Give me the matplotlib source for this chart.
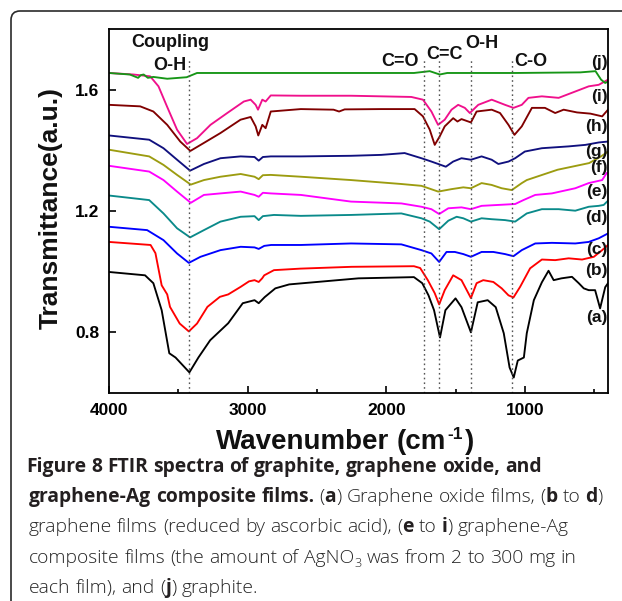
import re
import matplotlib
matplotlib.use("Agg")
import matplotlib.pyplot as plt
from matplotlib.patches import FancyBboxPatch
from matplotlib.transforms import IdentityTransform

# ---------------- data: FTIR spectra (wavenumber cm^-1, transmittance a.u.) ----------------
wn_a = [4000, 3740, 3680, 3620, 3565, 3520, 3420, 3355, 3270, 3140, 3035, 2950, 2920, 2877,
        2800, 2700, 2500, 2200, 1800, 1740, 1695, 1655, 1612, 1573, 1500, 1457, 1389, 1340,
        1268, 1210, 1152, 1110, 1080, 1051, 1007, 986, 935, 877, 829, 792, 736, 660, 611,
        575, 539, 493, 457, 420, 400]
tr_a = [0.999, 0.988, 0.962, 0.873, 0.731, 0.717, 0.668, 0.717, 0.774, 0.830, 0.896, 0.906,
        0.896, 0.916, 0.945, 0.958, 0.966, 0.978, 0.982, 0.962, 0.922, 0.873, 0.783, 0.873,
        0.912, 0.883, 0.800, 0.899, 0.906, 0.883, 0.797, 0.684, 0.651, 0.707, 0.717, 0.797,
        0.906, 0.965, 1.003, 0.972, 0.978, 0.983, 0.962, 0.945, 0.939, 0.939, 0.879, 0.949,
        0.962]

wn_b = [4000, 3700, 3665, 3620, 3580, 3560, 3490, 3424, 3365, 3290, 3200, 3140, 3050, 2990,
        2950, 2920, 2895, 2880, 2810, 2620, 2250, 1800, 1755, 1700, 1650, 1618, 1578, 1517,
        1457, 1389, 1348, 1300, 1227, 1167, 1118, 1082, 1034, 962, 877, 781, 684, 587, 502,
        442, 400]
tr_b = [1.098, 1.088, 1.061, 0.955, 0.925, 0.884, 0.829, 0.803, 0.829, 0.884, 0.917, 0.925,
        0.950, 0.968, 0.972, 0.966, 0.978, 0.988, 1.005, 1.010, 1.016, 1.018, 1.012, 0.972,
        0.929, 0.892, 0.939, 0.988, 0.972, 0.913, 0.962, 0.972, 0.966, 0.945, 0.922, 0.915,
        0.950, 1.011, 1.040, 1.038, 1.044, 1.040, 1.049, 1.071, 1.088]

wn_c = [4000, 3725, 3607, 3509, 3424, 3340, 3196, 3050, 2950, 2920, 2880, 2830, 2616, 2254,
        1891, 1746, 1674, 1618, 1565, 1505, 1444, 1389, 1312, 1227, 1143, 1082, 1022, 925,
        805, 636, 539, 467, 400]
tr_c = [1.148, 1.137, 1.104, 1.060, 1.029, 1.049, 1.071, 1.082, 1.080, 1.075, 1.085, 1.088,
        1.088, 1.093, 1.090, 1.071, 1.060, 1.032, 1.065, 1.065, 1.058, 1.049, 1.065, 1.065,
        1.058, 1.051, 1.071, 1.093, 1.095, 1.093, 1.098, 1.110, 1.126]

wn_d = [4000, 3710, 3607, 3509, 3415, 3315, 3196, 3050, 2950, 2920, 2890, 2810, 2616, 2254,
        1891, 1746, 1686, 1618, 1552, 1492, 1444, 1389, 1312, 1240, 1143, 1070, 986, 877,
        756, 636, 539, 467, 431, 400]
tr_d = [1.251, 1.236, 1.192, 1.143, 1.113, 1.137, 1.165, 1.181, 1.183, 1.170, 1.183, 1.187,
        1.184, 1.187, 1.192, 1.176, 1.165, 1.140, 1.168, 1.181, 1.176, 1.165, 1.176, 1.173,
        1.170, 1.165, 1.192, 1.206, 1.206, 1.201, 1.214, 1.217, 1.220, 1.234]

wn_e = [4000, 3710, 3607, 3509, 3410, 3315, 3196, 3050, 2950, 2920, 2890, 2833, 2616, 2254,
        1891, 1746, 1674, 1618, 1552, 1457, 1389, 1312, 1191, 1070, 1010, 925, 805, 636,
        539, 442, 410]
tr_e = [1.349, 1.330, 1.302, 1.264, 1.227, 1.253, 1.258, 1.264, 1.253, 1.247, 1.260, 1.258,
        1.253, 1.231, 1.225, 1.214, 1.206, 1.190, 1.209, 1.212, 1.206, 1.217, 1.220, 1.223,
        1.236, 1.253, 1.258, 1.275, 1.292, 1.302, 1.325]

wn_f = [4000, 3710, 3607, 3509, 3410, 3315, 3196, 3050, 2950, 2920, 2890, 2833, 2616, 2254,
        1891, 1746, 1625, 1530, 1444, 1389, 1312, 1240, 1167, 1094, 1022, 986, 764, 536,
        450, 400]
tr_f = [1.402, 1.380, 1.352, 1.319, 1.287, 1.302, 1.313, 1.322, 1.313, 1.305, 1.318, 1.319,
        1.313, 1.302, 1.289, 1.283, 1.264, 1.272, 1.278, 1.275, 1.292, 1.286, 1.275, 1.269,
        1.292, 1.302, 1.336, 1.358, 1.380, 1.396]

wn_g = [4000, 3710, 3607, 3509, 3415, 3315, 3196, 3050, 2950, 2920, 2890, 2833, 2616, 2254,
        2036, 1867, 1746, 1674, 1570, 1517, 1457, 1389, 1312, 1239, 1191, 1118, 1070, 1000,
        877, 684, 563, 466, 400]
tr_g = [1.449, 1.435, 1.407, 1.369, 1.333, 1.355, 1.374, 1.380, 1.378, 1.366, 1.378, 1.380,
        1.380, 1.382, 1.385, 1.391, 1.374, 1.363, 1.346, 1.363, 1.374, 1.369, 1.380, 1.369,
        1.355, 1.363, 1.374, 1.396, 1.407, 1.413, 1.418, 1.426, 1.429]

wn_h = [4000, 3775, 3680, 3580, 3486, 3413, 3317, 3196, 3051, 2978, 2942, 2923, 2894, 2870,
        2833, 2616, 2380, 2340, 2300, 2036, 1795, 1735, 1686, 1650, 1614, 1578, 1517, 1486,
        1457, 1389, 1348, 1239, 1179, 1118, 1075, 1022, 949, 855, 781, 720, 624, 527, 442,
        400]
tr_h = [1.550, 1.545, 1.528, 1.484, 1.429, 1.398, 1.424, 1.457, 1.501, 1.510, 1.479, 1.449,
        1.484, 1.473, 1.528, 1.536, 1.534, 1.528, 1.535, 1.536, 1.536, 1.512, 1.468, 1.418,
        1.446, 1.479, 1.506, 1.495, 1.503, 1.492, 1.528, 1.534, 1.523, 1.484, 1.451, 1.479,
        1.540, 1.540, 1.523, 1.534, 1.525, 1.521, 1.512, 1.534]

wn_i = [4000, 3824, 3703, 3643, 3582, 3509, 3437, 3365, 3268, 3147, 3027, 2978, 2942, 2925,
        2894, 2870, 2833, 2616, 2254, 1819, 1735, 1674, 1626, 1578, 1529, 1481, 1433, 1397,
        1336, 1239, 1143, 1082, 1022, 974, 877, 756, 636, 539, 467, 400]
tr_i = [1.655, 1.650, 1.644, 1.611, 1.545, 1.468, 1.421, 1.440, 1.484, 1.523, 1.561, 1.567,
        1.550, 1.534, 1.567, 1.561, 1.581, 1.580, 1.580, 1.576, 1.567, 1.528, 1.484, 1.501,
        1.534, 1.550, 1.540, 1.523, 1.550, 1.567, 1.550, 1.540, 1.550, 1.573, 1.578, 1.573,
        1.594, 1.611, 1.616, 1.633]

wn_j = [4000, 3850, 3790, 3770, 3750, 3720, 3680, 3580, 3440, 3365, 3100, 2254, 1800, 1686,
        1614, 1560, 1070, 600, 490, 450, 420, 400]
tr_j = [1.655, 1.650, 1.639, 1.648, 1.650, 1.639, 1.642, 1.636, 1.641, 1.655, 1.655, 1.655,
        1.655, 1.661, 1.650, 1.655, 1.655, 1.657, 1.661, 1.633, 1.622, 1.627]

series_names = ["(a)", "(b)", "(c)", "(d)", "(e)", "(f)", "(g)", "(h)", "(i)", "(j)"]
series_wn = [wn_a, wn_b, wn_c, wn_d, wn_e, wn_f, wn_g, wn_h, wn_i, wn_j]
series_tr = [tr_a, tr_b, tr_c, tr_d, tr_e, tr_f, tr_g, tr_h, tr_i, tr_j]
series_colors = ["#000000", "#ff0000", "#0000ff", "#0a8a8a", "#ff00ff", "#9c9c10",
                 "#10107e", "#800000", "#f0108c", "#169616"]
label_levels = [0.850, 1.005, 1.074, 1.180, 1.263, 1.345, 1.395, 1.478, 1.577, 1.689]

# band assignments: (text, wavenumber, baseline level)
band_texts = [("Coupling", 3555, 1.742), ("O-H", 3558, 1.666), ("C=O", 1903, 1.677),
              ("C=C", 1580, 1.702), ("O-H", 1308, 1.736), ("C-O", 957, 1.679)]
band_lines = [3420, 1730, 1620, 1390, 1090]
band_line_top = 1.705

x_major = [4000, 3000, 2000, 1000]
x_minor = [3500, 2500, 1500, 500]
y_major = [0.8, 1.2, 1.6]

caption_lines = [
    "**Figure 8 FTIR spectra of graphite, graphene oxide, and**",
    "**graphene-Ag composite films.** (**a**) Graphene oxide films, (**b** to **d**)",
    "graphene films (reduced by ascorbic acid), (**e** to **i**) graphene-Ag",
    "composite films (the amount of AgNO_{3} was from 2 to 300 mg in",
    "each film), and (**j**) graphite.",
]

# ---------------- figure ----------------
W, H, DPI = 622, 601, 100
fig = plt.figure(figsize=(W / DPI, H / DPI), dpi=DPI)
fig.patch.set_facecolor("white")
PIX = IdentityTransform()

# rounded frame around the figure panel
frame = FancyBboxPatch((11 / DPI, -1.0), 7.0, (H - 11) / DPI + 1.0,
                       boxstyle="round,pad=0,rounding_size=0.09",
                       transform=fig.dpi_scale_trans, fill=False,
                       edgecolor="#2a2a2a", linewidth=1.2)
fig.patches.append(frame)

L, R, T, B = 109, 608, 29, 393
ax = fig.add_axes([L / W, 1 - B / H, (R - L) / W, (B - T) / H])

for wn, tr, col in zip(series_wn, series_tr, series_colors):
    ax.plot(wn, tr, color=col, lw=1.35, solid_joinstyle="round")

ax.vlines(band_lines, 0.6, band_line_top, colors="#555555", linestyles=(0, (1.2, 2.2)), lw=1.0)

chart_font = "Liberation Sans"
for txt, x, y in band_texts:
    ax.text(x, y, txt, ha="center", va="baseline", fontsize=13, fontweight="bold",
            family=chart_font, color="#111111")

for name, lvl in zip(series_names, label_levels):
    ax.text(405, lvl, name, ha="right", va="center", fontsize=12.5, fontweight="bold",
            family=chart_font, color="#111111")

ax.set_xlim(4000, 400)
ax.set_ylim(0.6, 1.8)
ax.set_xticks(x_major)
ax.set_xticks(x_minor, minor=True)
ax.set_yticks(y_major)
ax.set_yticklabels([f"{v:.1f}" for v in y_major])
ax.tick_params(axis="both", which="major", direction="in", length=5, width=1.2,
               labelsize=12.5, pad=7, top=False, right=False)
ax.tick_params(axis="x", which="minor", direction="in", length=3, width=1.2, top=False)
for lab in ax.get_xticklabels() + ax.get_yticklabels():
    lab.set_fontweight("bold")
    lab.set_family(chart_font)
for sp in ax.spines.values():
    sp.set_linewidth(1.3)

renderer = fig.canvas.get_renderer()


def text_width(s, **kw):
    t = fig.text(0, 0, s, transform=PIX, **kw)
    w = t.get_window_extent(renderer=renderer).width
    t.remove()
    return w


def draw_pieces(x0, y0, pieces, center=False):
    """Draw (text, props, dy, gap) pieces one after another on a baseline at pixel y0."""
    widths = []
    for s, kw, dy, gap in pieces:
        widths.append(text_width(s, **kw) if s else 0.0)
    total = sum(w + g for w, (_, _, _, g) in zip(widths, pieces))
    x = x0 - total / 2 if center else x0
    for (s, kw, dy, gap), w in zip(pieces, widths):
        x += gap
        if s:
            fig.text(x, H - y0 + dy, s, transform=PIX, ha="left", va="baseline", **kw)
        x += w


# axis titles
ylab_kw = dict(family=chart_font, fontweight="bold", fontsize=19, color="#111111")
fig.text(51, H - 208, "Transmittance(a.u.)", transform=PIX, rotation=90,
         ha="center", va="center", **ylab_kw)
big = dict(family=chart_font, fontweight="bold", fontsize=20, color="#111111")
sup = dict(family=chart_font, fontweight="bold", fontsize=12.5, color="#111111")
draw_pieces(345, 449, [("Wavenumber", big, 0, 0), ("(cm", big, 0, 8),
                       ("-1", sup, 10, 1), (")", big, 0, 2)], center=True)

# caption
cap_bold = dict(family="Open Sans", fontweight="bold", fontsize=13.85, color="#231f20")
cap_reg = dict(family="Open Sans", fontweight="light", fontsize=13.85, color="#262626")
cap_sub = dict(family="Open Sans", fontweight="light", fontsize=9.2, color="#262626")
space_w = text_width("a a", **cap_reg) - text_width("aa", **cap_reg)


def caption_pieces(markup):
    pieces = []
    pending_gap = 0.0
    for i, part in enumerate(markup.split("**")):
        bold = i % 2 == 1
        for tok in re.split(r"( |_\{\d\})", part):
            if not tok:
                continue
            if tok == " ":
                pending_gap += space_w
            elif tok.startswith("_{"):
                pieces.append((tok[2:-1], cap_sub, -4, pending_gap + 0.5))
                pending_gap = 0.0
            else:
                pieces.append((tok, cap_bold if bold else cap_reg, 0, pending_gap))
                pending_gap = 0.0
    return pieces


baselines = [472, 502, 532, 563, 593]
starts = [26, 29, 29, 29, 29]
for line, yb, xs in zip(caption_lines, baselines, starts):
    draw_pieces(xs, yb, caption_pieces(line))

fig.savefig("out.png", dpi=DPI)
